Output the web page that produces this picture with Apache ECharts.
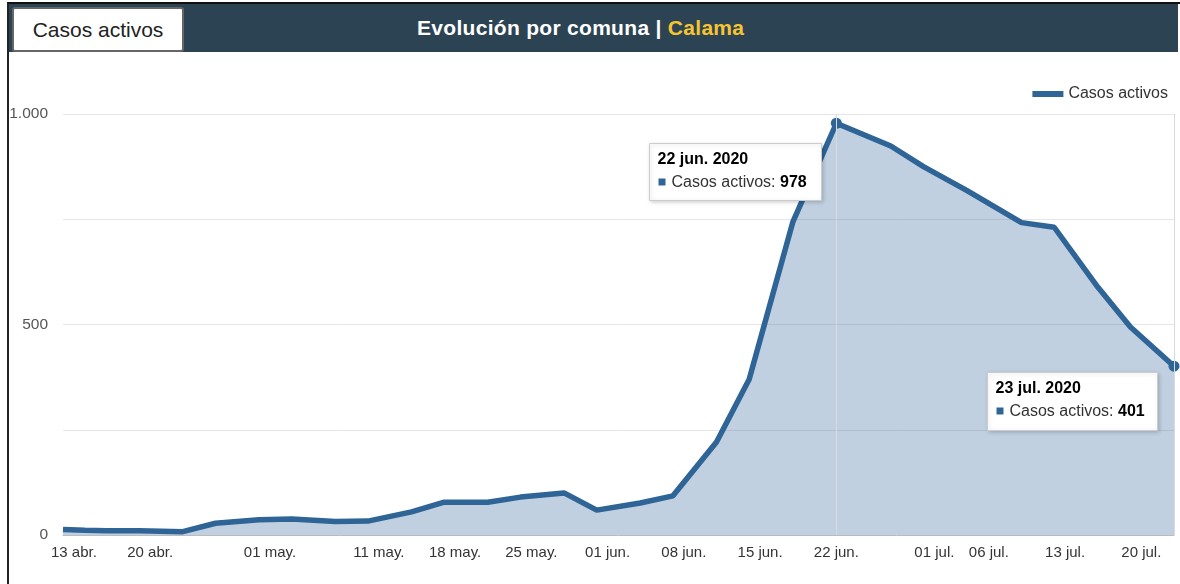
<!DOCTYPE html>
<html>
<head>
<meta charset="utf-8">
<script src="https://cdn.jsdelivr.net/npm/echarts@6/dist/echarts.min.js"></script>
<style>
html, body { margin:0; padding:0; background:#fff; }
#wrap { position:relative; width:1180px; height:584px; overflow:hidden; font-family:"Liberation Sans", Arial, sans-serif; }
#chart { position:absolute; left:0; top:0; width:1180px; height:584px; }
.frame { position:absolute; left:7px; top:2px; width:1173px; height:582px; border-left:2px solid #222; border-top:2px solid #111; box-sizing:border-box; pointer-events:none; }
.bar { position:absolute; left:9px; top:4px; width:1169px; height:48px; background:#2c4354; }
.btn { position:absolute; left:12px; top:7px; width:172px; height:45px; box-sizing:border-box; background:#fff; border:2px solid #666; border-radius:3px; font-size:21px; color:#222; text-align:center; line-height:41px; }
.title { position:absolute; left:417px; top:4px; line-height:48px; font-size:21px; font-weight:bold; color:#fff; letter-spacing:0.3px; }
.title span { color:#f7c531; }
</style>
</head>
<body>
<div id="wrap">
  <div id="chart"></div>
  <div class="bar"></div>
  <div class="frame"></div>
  <div class="btn">Casos activos</div>
  <div class="title">Evolución por comuna | <span>Calama</span></div>
</div>
<script>
// fechas de reporte y casos activos (Calama)
const dates = ['2020-04-12','2020-04-14','2020-04-16','2020-04-19','2020-04-23','2020-04-26','2020-04-30','2020-05-03','2020-05-07','2020-05-10','2020-05-14','2020-05-17','2020-05-21','2020-05-24','2020-05-28','2020-05-31','2020-06-04','2020-06-07','2020-06-11','2020-06-14','2020-06-18','2020-06-22','2020-06-27','2020-06-30','2020-07-04','2020-07-09','2020-07-12','2020-07-16','2020-07-19','2020-07-23']
const activos = [13,11,10,10,8,28,36,38,32,33,55,78,78,90,100,59,76,93,221,370,743,978,924,875,818,742,731,589,494,401]
const tickDates = ['2020-04-13','2020-04-20','2020-05-01','2020-05-11','2020-05-18','2020-05-25','2020-06-01','2020-06-08','2020-06-15','2020-06-22','2020-07-01','2020-07-06','2020-07-13','2020-07-20']
const highlightDates = ['2020-06-22','2020-07-23']
const months = ['ene.','feb.','mar.','abr.','may.','jun.','jul.','ago.','sep.','oct.','nov.','dic.']
const seriesName = 'Casos activos'

const lineColor = '#2f6497'
const toTs = s => { const [y, m, d] = s.split('-').map(Number); return new Date(y, m - 1, d).getTime() }
const pad = n => (n < 10 ? '0' : '') + n
const fmtNum = v => String(v).replace(/\B(?=(\d{3})+(?!\d))/g, '.')

const chart = echarts.init(document.getElementById('chart'))
const font = '"Liberation Sans", Arial, sans-serif'

chart.setOption({
  animation: false,
  textStyle: { fontFamily: font },
  legend: {
    data: [seriesName], right: 7, top: 81, itemGap: 8,
    icon: 'path://M0,0h31v6h-31z', itemWidth: 31, itemHeight: 6,
    textStyle: { fontSize: 16, color: '#333', fontFamily: font }
  },
  grid: { left: 63, right: 6, top: 114, bottom: 49 },
  xAxis: {
    // eje en milisegundos, etiquetas sólo en las fechas del original
    type: 'value',
    min: toTs(dates[0]), max: toTs(dates[dates.length - 1]),
    axisLine: { lineStyle: { color: '#bbbbbb' } },
    axisTick: { show: false },
    splitLine: { show: false },
    axisLabel: {
      customValues: tickDates.map(toTs),
      color: '#333', fontSize: 15, margin: 10, fontFamily: font,
      formatter: v => { const d = new Date(v); return pad(d.getDate()) + ' ' + months[d.getMonth()] }
    }
  },
  yAxis: {
    type: 'value', min: 0, max: 1000, interval: 250,
    axisLine: { show: false }, axisTick: { show: false },
    splitLine: { lineStyle: { color: '#e6e6e6' } },
    axisLabel: { color: '#555', fontSize: 15.5, margin: 15, fontFamily: font, formatter: v => (v % 500 === 0 ? fmtNum(v) : '') }
  },
  series: [{
    name: seriesName, type: 'line', symbol: 'circle', showAllSymbol: true,
    data: dates.map((d, i) => ({ value: [toTs(d), activos[i]], symbolSize: highlightDates.includes(d) ? 11 : 0 })),
    lineStyle: { color: lineColor, width: 5.5 },
    itemStyle: { color: lineColor },
    areaStyle: { color: lineColor, opacity: 0.3 },
    markLine: {
      silent: true, symbol: ['none', 'none'], label: { show: false },
      lineStyle: { color: '#d6dbe3', type: 'solid', width: 1 },
      data: highlightDates.map(d => ({ xAxis: toTs(d) }))
    },
    z: 3
  }]
})

// cajas de tooltip fijas junto a los puntos destacados
const boxOffsets = [[-187, 20, 172, 57], [-187, 6, 170, 58]]
const graphics = []
highlightDates.forEach((d, k) => {
  const i = dates.indexOf(d)
  const p = chart.convertToPixel({ seriesIndex: 0 }, [toTs(d), activos[i]])
  const [dx, dy, w, h] = boxOffsets[k]
  const x = Math.round(p[0] + dx) + 0.5, y = Math.round(p[1] + dy) + 0.5
  const dt = new Date(toTs(d))
  graphics.push(
    { type: 'rect', shape: { x, y, width: w, height: h }, z: 10,
      style: { fill: '#fff', stroke: '#cccccc', lineWidth: 1, shadowBlur: 4, shadowOffsetX: 1, shadowOffsetY: 1, shadowColor: 'rgba(0,0,0,0.18)' } },
    { type: 'text', x: x + 8, y: y + 16, z: 11,
      style: { text: pad(dt.getDate()) + ' ' + months[dt.getMonth()] + ' ' + dt.getFullYear(), font: 'bold 16px ' + font, fill: '#000', verticalAlign: 'middle' } },
    { type: 'rect', shape: { x: x + 9, y: y + 35, width: 7, height: 7 }, z: 11, style: { fill: lineColor } },
    { type: 'text', x: x + 22, y: y + 39, z: 11,
      style: { text: '{a|' + seriesName + ': }{b|' + fmtNum(activos[i]) + '}', verticalAlign: 'middle',
        rich: { a: { font: '16px ' + font, fill: '#333' }, b: { font: 'bold 16px ' + font, fill: '#000' } } } }
  )
})
chart.setOption({ graphic: graphics })
</script>
</body>
</html>
